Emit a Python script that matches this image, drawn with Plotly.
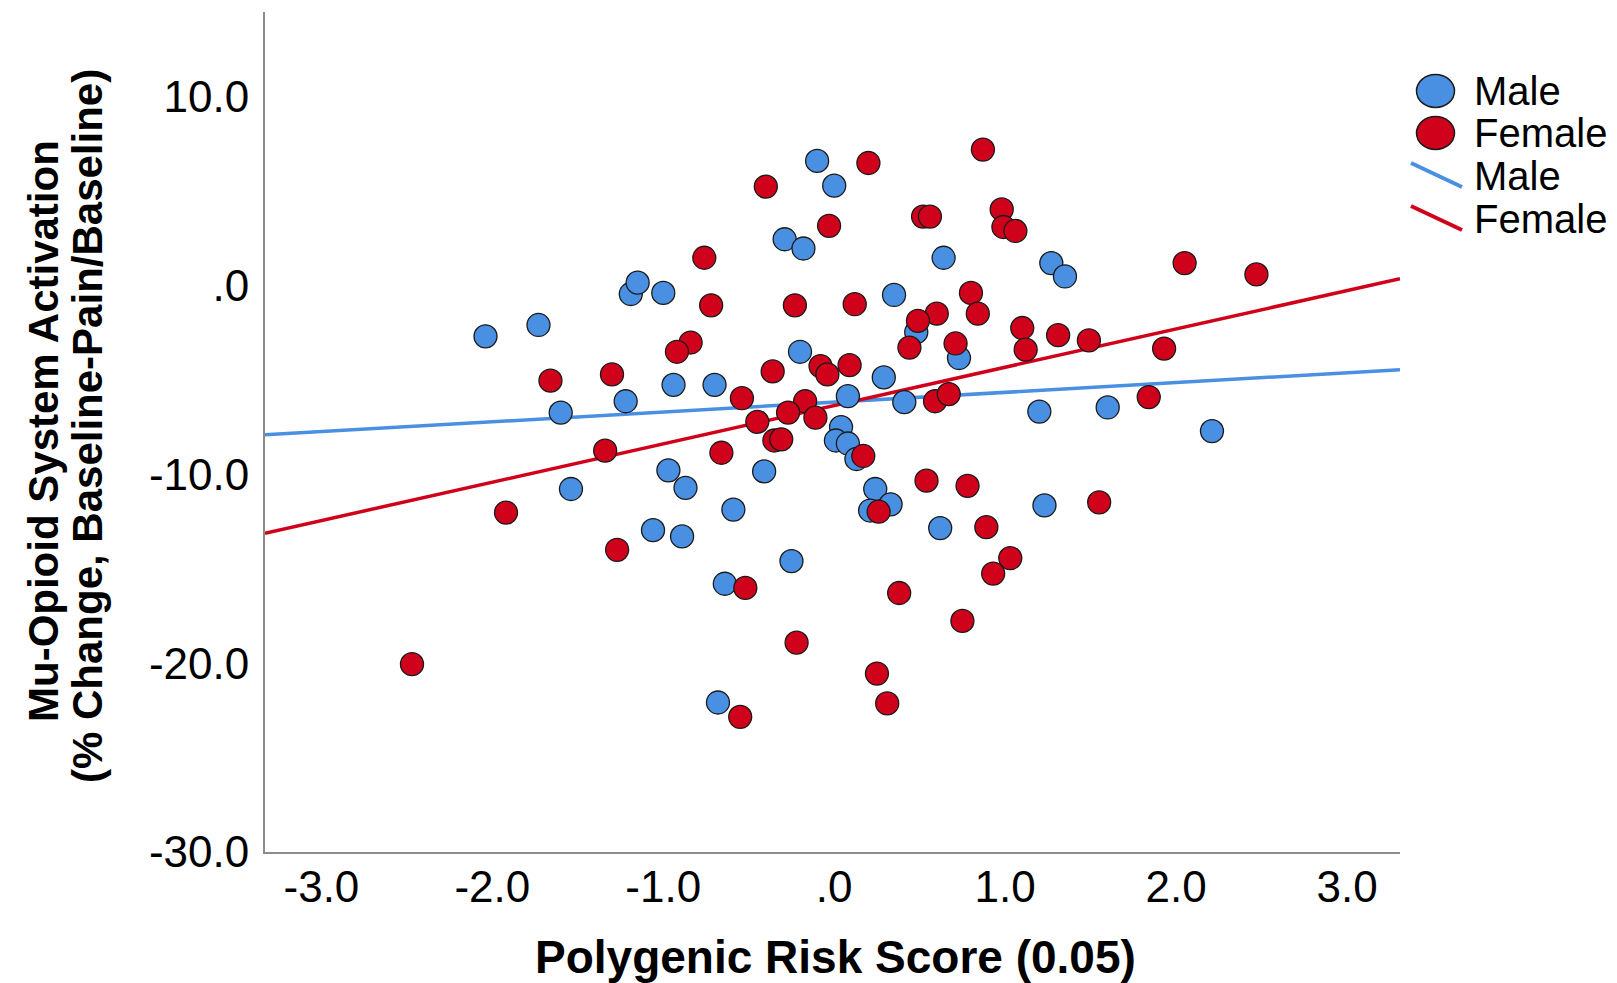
import plotly.graph_objects as go

# ---------------- data ----------------
male_prs = [-2.04, -1.73, -1.60, -1.54, -1.19, -1.15, -1.00, -1.22, -0.94, -0.70,
            -0.97, -0.87, -1.06, -0.89, -0.59, -0.64, -0.68, -0.41, -0.25, -0.29,
            -0.18, -0.10, -0.00, -0.20, 0.08, 0.04, 0.01, 0.08, 0.13, 0.29,
            0.35, 0.41, 0.24, 0.33, 0.21, 0.48, 0.64, 0.73, 0.62, 1.20,
            1.27, 1.35, 1.23, 1.60, 2.21]
male_mu = [-2.68, -2.08, -6.72, -10.77, -0.44, 0.16, -0.38, -6.12, -5.25, -5.25,
           -9.78, -10.71, -12.95, -13.28, -11.86, -15.79, -22.08, -9.84, -14.59, 2.46,
           1.97, 6.61, 5.30, -3.50, -5.85, -7.49, -8.20, -8.36, -9.18, -4.86,
           -0.49, -6.17, -10.77, -11.58, -11.91, -2.46, 1.48, -3.83, -12.84, -6.67,
           1.20, 0.49, -11.64, -6.45, -7.70]

female_prs = [-0.40, 0.20, 0.87, -0.03, -0.76, -0.72, -0.23, 0.12, 0.52, 0.56,
              0.98, 0.99, 1.06, 2.05, 2.47, 0.80, 0.84, 0.60, 0.49, 0.44,
              0.71, 1.10, 1.31, 1.49, 1.12, 1.93, -0.84, -0.92, -1.66, -1.30,
              -0.36, -0.08, -0.04, 0.09, -0.54, -0.17, -0.45, -0.27, -0.11, 0.59,
              0.67, 1.84, -0.35, -0.31, 0.17, -1.34, -0.66, -1.92, -1.27, -0.52,
              -0.22, 0.54, 0.78, 1.55, 0.26, 0.89, 1.03, 0.93, 0.38, 0.75,
              0.25, 0.31, -2.47, -0.55]
female_mu = [5.25, 6.50, 7.21, 3.17, 1.48, -1.04, -1.04, -0.98, 3.66, 3.66,
             4.04, 3.11, 2.90, 1.20, 0.60, -0.38, -1.48, -1.48, -1.86, -3.28,
             -3.06, -2.24, -2.62, -2.90, -3.39, -3.33, -3.01, -3.50, -5.03, -4.70,
             -4.54, -4.26, -4.70, -4.21, -5.96, -6.12, -7.21, -6.72, -6.99, -6.12,
             -5.74, -5.90, -8.20, -8.14, -9.02, -8.74, -8.85, -12.02, -13.99, -16.01,
             -18.91, -10.33, -10.60, -11.48, -11.97, -12.79, -14.43, -15.25, -16.28, -17.76,
             -20.55, -22.13, -20.05, -22.84]

# linear fit lines (intercept, slope) as drawn in the reference
male_fit = [-6.17, 0.52]
female_fit = [-6.35, 2.03]

x_range = [-3.33, 3.31]
y_range = [-30.0, 14.5]
x_ticks = [-3, -2, -1, 0, 1, 2, 3]
x_ticktext = ["-3.0", "-2.0", "-1.0", ".0", "1.0", "2.0", "3.0"]
y_ticks = [-30, -20, -10, 0, 10]
y_ticktext = ["-30.0", "-20.0", "-10.0", ".0", "10.0"]

groups = ["Male", "Female"]
x_title = "Polygenic Risk Score (0.05)"
y_title_1 = "Mu-Opioid System Activation"
y_title_2 = "(% Change, Baseline-Pain/Baseline)"

# ---------------- styling ----------------
BLUE = "#4A90E2"
RED = "#D0021B"
OUTLINE = "#1a1a1a"
FONT = "Liberation Sans, Arial, sans-serif"

W, H = 1617, 983
# plot area in page pixels
PL, PR, PT, PB = 265, 1400, 12, 852
L, T, R, B = PL, PT, W - PR, H - PB
PW, PH = PR - PL, PB - PT


def px(xp):
    return (xp - PL) / PW


def py(yp):
    return (PB - yp) / PH


fig = go.Figure()

# fit lines
for (b0, b1), col, name in [(male_fit, BLUE, "Male"), (female_fit, RED, "Female")]:
    fig.add_trace(go.Scatter(
        x=x_range, y=[b0 + b1 * x_range[0], b0 + b1 * x_range[1]],
        mode="lines", line=dict(color=col, width=3.5), name=name,
        showlegend=False, hoverinfo="skip"))

# scatter points
fig.add_trace(go.Scatter(
    x=male_prs, y=male_mu, mode="markers", name="Male", showlegend=False,
    marker=dict(size=23, color=BLUE, line=dict(color=OUTLINE, width=1.3))))
fig.add_trace(go.Scatter(
    x=female_prs, y=female_mu, mode="markers", name="Female", showlegend=False,
    marker=dict(size=23, color=RED, line=dict(color=OUTLINE, width=1.3))))

axis_common = dict(showgrid=False, zeroline=False, showline=True,
                   linecolor="#8c8c8c", linewidth=2, ticks="",
                   tickfont=dict(family=FONT, size=44, color="black"))

fig.update_xaxes(range=x_range, tickvals=x_ticks, ticktext=x_ticktext,
                 ticklabelstandoff=-5, **axis_common)
fig.update_yaxes(range=y_range, tickvals=y_ticks, ticktext=y_ticktext,
                 ticklabelstandoff=5, **axis_common)

annotations = [
    dict(text="<b>%s</b>" % x_title, xref="paper", yref="paper",
         x=px(835), y=py(957), xanchor="center", yanchor="middle",
         showarrow=False, font=dict(family=FONT, size=46, color="black")),
    dict(text="<b>%s</b>" % y_title_1, xref="paper", yref="paper",
         x=px(43), y=py(431), xanchor="center", yanchor="middle", textangle=-90,
         showarrow=False, font=dict(family=FONT, size=42, color="black")),
    dict(text="<b>%s</b>" % y_title_2, xref="paper", yref="paper",
         x=px(87), y=py(426), xanchor="center", yanchor="middle", textangle=-90,
         showarrow=False, font=dict(family=FONT, size=42, color="black")),
]

# custom legend (SPSS style)
shapes = []
leg_rows = [91, 133, 176, 219]
for i, (g, col) in enumerate(zip(groups, [BLUE, RED])):
    cy = leg_rows[i]
    shapes.append(dict(type="circle", xref="paper", yref="paper",
                       x0=px(1416.5), x1=px(1454.5), y0=py(cy + 16.5), y1=py(cy - 16.5),
                       fillcolor=col, line=dict(color=OUTLINE, width=1.5)))
for i, (g, col) in enumerate(zip(groups, [BLUE, RED])):
    cy = leg_rows[i + 2]
    shapes.append(dict(type="line", xref="paper", yref="paper",
                       x0=px(1411), x1=px(1462), y0=py(cy - 13), y1=py(cy + 11),
                       line=dict(color=col, width=4)))
for i, g in enumerate(groups + groups):
    annotations.append(dict(text=g, xref="paper", yref="paper",
                            x=px(1472), y=py(leg_rows[i]), xanchor="left", yanchor="middle",
                            showarrow=False, font=dict(family=FONT, size=40, color="black")))

fig.update_layout(width=W, height=H, margin=dict(l=L, r=R, t=T, b=B),
                  paper_bgcolor="white", plot_bgcolor="white",
                  showlegend=False, annotations=annotations, shapes=shapes)

fig.write_html("out.html", config={"displayModeBar": False},
               post_script="document.body.style.margin='0';document.body.style.overflow='hidden';")
